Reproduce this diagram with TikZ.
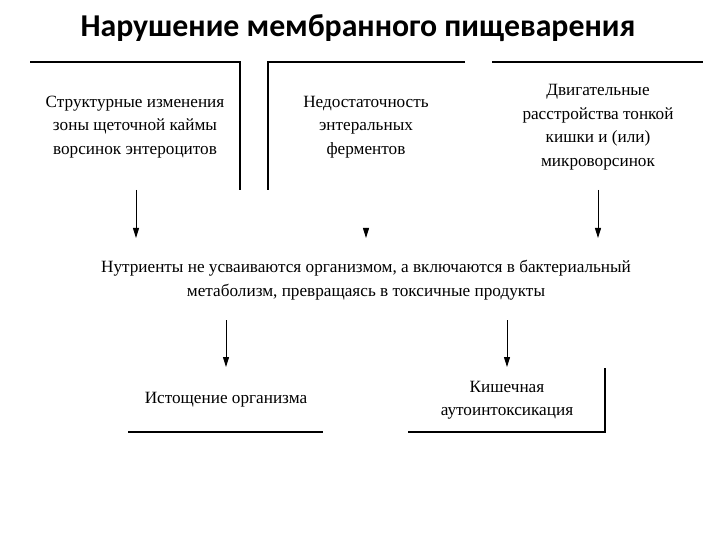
\documentclass[tikz,border=0pt]{standalone}
\usepackage{fontspec}
\setmainfont{Liberation Serif}
\newfontfamily\titlefont{Carlito}
\usetikzlibrary{arrows.meta}
\tikzset{
  titletext/.style={font=\titlefont\bfseries\fontsize{31.8}{38}\selectfont, inner sep=0pt},
  txt/.style={font=\fontsize{17.2}{23.5}\selectfont, align=center, inner sep=0pt},
  frame/.style={line width=1.3pt, black},
  arr/.style={line width=1pt, -{Triangle[length=10pt,width=6pt]}},
}
\begin{document}
\begin{tikzpicture}[x=1pt,y=-1pt]
\useasboundingbox[fill=white] (0,0) rectangle (720,540);
\node[titletext] (title) at (358,28) {Нарушение мембранного пищеварения};
\node[txt] (b1) at (135,127) {Структурные изменения\\зоны щеточной каймы\\ворсинок энтероцитов};
\node[txt] (b2) at (366,127) {Недостаточность\\энтеральных\\ферментов};
\node[txt] (b3) at (598,127) {Двигательные\\расстройства тонкой\\кишки и (или)\\микроворсинок};
\node[txt] (mid) at (366,280) {Нутриенты не усваиваются организмом, а включаются в бактериальный\\метаболизм, превращаясь в токсичные продукты};
\node[txt] (r1) at (226,400) {Истощение организма};
\node[txt] (r2) at (507,400) {Кишечная\\аутоинтоксикация};
% partial frames
\draw[frame] (30,62) -- (240,62) -- (240,190);
\draw[frame] (465,62) -- (268,62) -- (268,190);
\draw[frame] (492,62) -- (703,62);
\draw[frame] (128,432) -- (323,432);
\draw[frame] (408,432) -- (605,432) -- (605,368);
% arrow ends
\coordinate (s1) at (136,190);
\coordinate (e1) at (136,238);
\coordinate (s2) at (366,228);
\coordinate (e2) at (366,238);
\coordinate (s3) at (598,190);
\coordinate (e3) at (598,238);
\coordinate (s4) at (226,320);
\coordinate (e4) at (226,367);
\coordinate (s5) at (507,320);
\coordinate (e5) at (507,367);
\draw[arr] (s1) -- (e1);
\draw[arr] (s2) -- (e2);
\draw[arr] (s3) -- (e3);
\draw[arr] (s4) -- (e4);
\draw[arr] (s5) -- (e5);
\end{tikzpicture}
\end{document}
